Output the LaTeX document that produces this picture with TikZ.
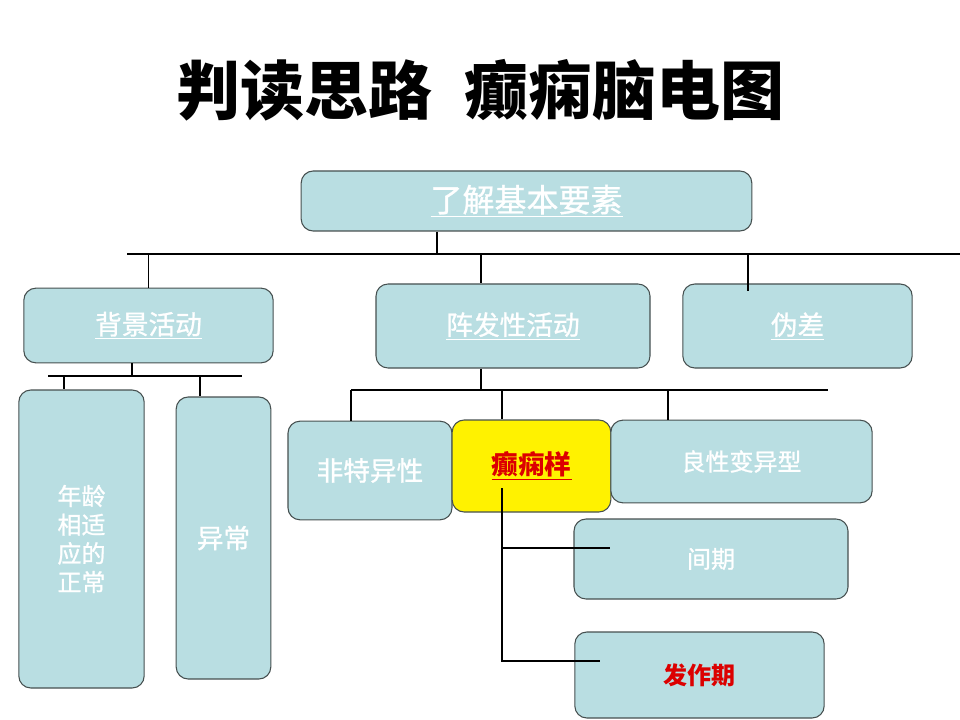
\documentclass[tikz,border=0pt]{standalone}
\usepackage{fontspec}
\setmainfont{Noto Sans CJK SC}
\newfontfamily\boxfont[FakeBold=1]{Noto Sans CJK SC}
\definecolor{boxblue}{RGB}{185,222,226}
\definecolor{boxline}{RGB}{70,80,80}
\definecolor{hotred}{RGB}{220,0,0}
\tikzset{
  box/.style={draw=boxline, fill=boxblue, rounded corners=9pt, line width=0.8pt,
              text=white, align=center, inner sep=0pt, font=\boxfont\fontsize{20}{24}\selectfont},
  small/.style={font=\boxfont\fontsize{18}{21.5}\selectfont},
  hotbox/.style={box, fill=yellow, text=hotred, font=\bfseries\fontsize{20}{24}\selectfont},
  link/.style={draw=black, line width=0.9pt},
}

\begin{document}
\begin{tikzpicture}[x=0.75pt, y=-0.75pt]
  \useasboundingbox (0,0) rectangle (960,720);

  \node[font=\bfseries\fontsize{48}{52}\selectfont] (title) at (480,90) {判读思路\hspace{0.5em}癫痫脑电图};

  \node[box, minimum width=338pt, minimum height=45pt, font=\boxfont\fontsize{24}{28}\selectfont]
    (basics) at (526.5,201) {\underline{了解基本要素}};

  \node[box, minimum width=187pt, minimum height=56pt] (bg) at (148.5,325.5) {\underline{背景活动}};
  \node[box, minimum width=205.5pt, minimum height=63pt] (px) at (513,326) {\underline{阵发性活动}};
  \node[box, minimum width=172pt, minimum height=63pt] (art) at (797.5,326) {\underline{伪差}};

  \node[box, small, minimum width=94pt, minimum height=223.5pt] (normal) at (81.5,539) {年龄\\相适\\应的\\正常};
  \node[box, minimum width=71pt, minimum height=211.5pt] (abn) at (223.5,538) {异常};

  \node[box, minimum width=123pt, minimum height=74pt] (nonspec) at (370,470.5) {非特异性};
  \node[hotbox, minimum width=119pt, minimum height=69pt] (epi) at (531.5,466) {\underline{癫痫样}};
  \node[box, small, minimum width=196pt, minimum height=62pt] (benign) at (741.5,461.5) {良性变异型};

  \node[box, small, minimum width=205.5pt, minimum height=60pt] (inter) at (711,559) {间期};
  \node[box, minimum width=187pt, minimum height=64.5pt, text=hotred,
        font=\bfseries\fontsize{18}{21.5}\selectfont] (ictal) at (699.5,675) {发作期};

  % top level
  \coordinate (busL) at (127,254);
  \coordinate (busR) at (960,254);
  \coordinate (busTop) at (437,254);
  \coordinate (busPx) at (481,254);
  \coordinate (busArt) at (748,254);
  \coordinate (artEnd) at (748,291);
  \draw[link] (busL) -- (busR);
  \draw[link] (basics.south -| busTop) -- (busTop);
  \draw[link] (bg.north) -- (bg.north |- busL);
  \draw[link] (busPx) -- (busPx |- px.north);
  \draw[link] (busArt) -- (artEnd);

  % 背景活动
  \coordinate (bgL) at (48,376);
  \coordinate (bgR) at (242,376);
  \coordinate (bgUp) at (132,376);
  \coordinate (bgN) at (64,376);
  \coordinate (bgA) at (200,376);
  \draw[link] (bgL) -- (bgR);
  \draw[link] (bg.south -| bgUp) -- (bgUp);
  \draw[link] (bgN) -- (bgN |- normal.north);
  \draw[link] (bgA) -- (bgA |- abn.north);

  % 阵发性活动
  \coordinate (pxL) at (351,390);
  \coordinate (pxR) at (828,390);
  \coordinate (pxUp) at (481,390);
  \coordinate (pxE) at (502,390);
  \coordinate (pxB) at (668,390);
  \draw[link] (pxL) -- (pxR);
  \draw[link] (px.south -| pxUp) -- (pxUp);
  \draw[link] (pxL) -- (pxL |- nonspec.north);
  \draw[link] (pxE) -- (pxE |- epi.north);
  \draw[link] (pxB) -- (pxB |- benign.north);

  % 癫痫样
  \coordinate (epiTop) at (502,488);
  \coordinate (epiBot) at (502,661);
  \coordinate (interEnd) at (610,548);
  \coordinate (ictalEnd) at (600,661);
  \draw[link] (epiTop) -- (epiBot) -- (ictalEnd);
  \draw[link] (epiTop |- interEnd) -- (interEnd);
\end{tikzpicture}
\end{document}
